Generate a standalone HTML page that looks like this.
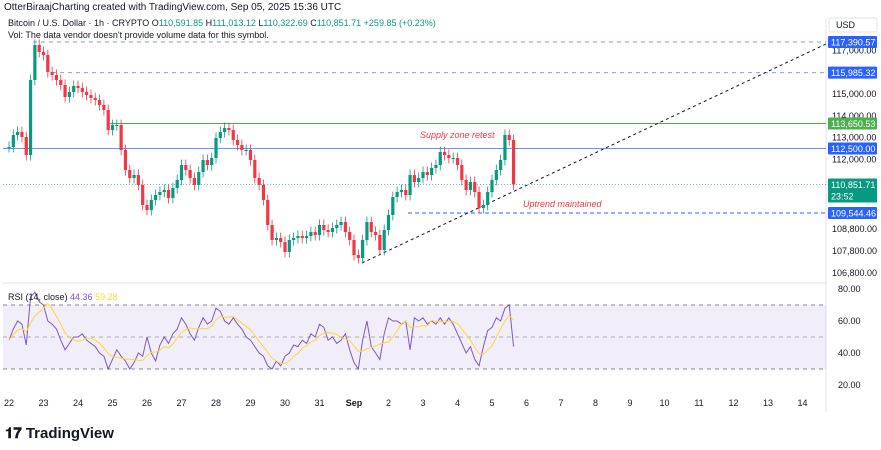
<!DOCTYPE html>
<html><head><meta charset="utf-8"><style>
body{margin:0;background:#fff;font-family:"Liberation Sans",sans-serif;}
svg text{font-family:"Liberation Sans",sans-serif;}
</style></head><body>
<svg id="c" width="881" height="445">
<rect x="0" y="0" width="881" height="445" fill="#fff"/>
<text x="4" y="10" font-size="10" fill="#131722">OtterBiraajCharting created with TradingView.com, Sep 05, 2025 15:36 UTC</text>
<text x="8" y="26" font-size="9" fill="#131722">Bitcoin / U.S. Dollar · 1h · CRYPTO  <tspan fill="#131722">O</tspan><tspan fill="#089981">110,591.85</tspan> <tspan fill="#131722">H</tspan><tspan fill="#089981">111,013.12</tspan> <tspan fill="#131722">L</tspan><tspan fill="#089981">110,322.69</tspan> <tspan fill="#131722">C</tspan><tspan fill="#089981">110,851.71 +259.85 (+0.23%)</tspan></text>
<text x="8" y="38" font-size="9" fill="#131722">Vol: The data vendor doesn't provide volume data for this symbol.</text>
<line x1="3" y1="283" x2="826" y2="283" stroke="#e0e3eb"/>
<line x1="826" y1="18" x2="826" y2="412" stroke="#e0e3eb"/>
<rect x="3" y="305" width="823" height="64" fill="#7e57c2" fill-opacity="0.1"/>
<g id="main"></g>
<g id="rsi"></g>
<g id="axes"></g>
<rect x="829" y="18" width="48" height="14" fill="#fff" stroke="#e0e3eb" rx="2"/>
<text x="836" y="28" font-size="9" fill="#131722">USD</text>
<text x="5" y="438" font-size="15" font-weight="bold" fill="#131722">𝟏𝟕 TradingView</text>
</svg>
<script>
const closes=[112572,113122,113260,113030,112205,115645,117250,116930,
116790,116010,115875,115645,115415,114865,115095,115370,
115280,115095,114960,114820,114730,114500,114270,113350,
113580,113580,112434,111516,111150,111287,110830,109910,
109680,110140,110370,110507,110600,110230,110690,111060,
111745,111516,111150,110830,111425,111975,111745,112066,
112984,113260,113443,113350,112893,112663,112434,112434,
111975,111150,110830,110140,108994,108305,108397,108214,
107755,108305,108397,108490,108397,108490,108672,108535,
108994,108764,108672,108856,108994,109130,108672,108305,
107617,107480,108305,109130,108672,108535,107847,108764,
109452,110278,110507,110600,110370,111287,110966,111150,
111425,111287,111608,111745,112342,112205,112066,112066,
111745,111060,110600,110966,110507,109773,109910,110507,
111060,111516,111975,113122,112893,110852];
const rsiValues=[48,55,60,58,45,75,78,72,70,60,58,55,48,42,46,50,50,52,48,46,44,40,38,30,
36,42,38,35,30,34,40,38,50,40,35,45,50,46,52,55,62,58,52,48,56,62,58,60,
68,66,60,58,62,58,55,50,48,44,40,38,32,30,35,32,38,40,45,44,48,46,52,50,
58,56,48,50,46,48,52,42,34,30,48,60,44,40,36,52,62,60,60,58,60,42,62,60,
62,58,60,58,62,58,62,58,52,46,40,44,36,32,44,54,56,62,60,68,70,44];
const priceTicks=[117000,115000,114000,113000,112000,108800,107800,106800];
const rsiTicks=[80,60,40,20];
const dateLabels=["22","23","24","25","26","27","28","29","30","31","Sep","2","3","4","5","6","7","8","9","10","11","12","13","14"];
const levels=[117390.57,115985.32,113650.53,112500.00,110851.71,109544.46];
const NS="http://www.w3.org/2000/svg";
const py=p=>213-(p-109544)*0.0218;
const ry=v=>337-(v-50)*1.6;
const dx=d=>9+d*34.5;
const ix=i=>9+i*4.3125;
function mk(t,a,par){const e=document.createElementNS(NS,t);for(const k in a)e.setAttribute(k,a[k]);par.appendChild(e);return e;}
const main=document.getElementById('main'),rsi=document.getElementById('rsi'),axes=document.getElementById('axes');
const lvStyle=[[33,'#2962ff','4,4',0.6],[52,'#2962ff','4,4',0.6],[110,'#4caf50','',1],[3,'#2962ff','',0.7],[3,'#089981','1,2',0.6],[408,'#2962ff','4,3',1]];
levels.forEach((v,k)=>{const s=lvStyle[k];
const l=mk('line',{x1:s[0],x2:826,y1:py(v),y2:py(v),stroke:s[1],'stroke-dasharray':s[2],'stroke-opacity':s[3]},main);

});
const tl=mk('line',{x1:362,y1:263,x2:826,y2:44,stroke:'#131722','stroke-dasharray':'3,3'},main);


closes.forEach((c,i)=>{const o=i?closes[i-1]:c;const up=c>=o;const col=up?'#089981':'#f23645';const x=ix(i);
const hi=Math.max(o,c)+250,lo=Math.min(o,c)-250;
const w=mk('line',{x1:x,x2:x,y1:py(hi),y2:py(lo),stroke:col,'stroke-width':0.8},main);


const b=mk('rect',{x:x-1.6,width:3.2,y:Math.min(py(o),py(c)),height:Math.max(1,Math.abs(py(o)-py(c))),fill:col},main);

});
const a1=mk('text',{x:420,y:138,'font-size':9,fill:'#f23645','font-style':'italic'},main);a1.textContent='Supply zone retest';


const a2=mk('text',{x:523,y:207,'font-size':9,fill:'#f23645','font-style':'italic'},main);a2.textContent='Uptrend maintained';


priceTicks.forEach(p=>{const t=mk('text',{x:832,y:py(p)+3,'font-size':9,fill:'#131722'},axes);t.textContent=p.toLocaleString('en-US',{minimumFractionDigits:2});

});
const badgeCol=['#2962ff','#2962ff','#4caf50','#2962ff','#089981','#2962ff'];
levels.forEach((v,k)=>{const y=py(v);const h=k==4?24:12;
const r=mk('rect',{x:828,y:y-6,width:49,height:h,fill:badgeCol[k],rx:1},axes);


const t=mk('text',{x:831,y:y+3.5,'font-size':9,fill:'#fff'},axes);t.textContent=v.toLocaleString('en-US',{minimumFractionDigits:2});


if(k==4){const t2=mk('text',{x:831,y:y+15,'font-size':9,fill:'#fff'},axes);t2.textContent='23:52';

}});
[70,50,30].forEach(v=>{const l=mk('line',{x1:3,x2:826,y1:ry(v),y2:ry(v),stroke:'#787b86','stroke-dasharray':'4,4','stroke-opacity':v==50?0.6:0.9},rsi);

});
const rp=mk('polyline',{points:rsiValues.map((v,i)=>ix(i)+','+ry(v)).join(' '),fill:'none',stroke:'#7e57c2','stroke-width':1},rsi);


const ma=rsiValues.map((v,i)=>{const s=rsiValues.slice(Math.max(0,i-4),i+1);return s.reduce((a,b)=>a+b,0)/s.length;});
const mp=mk('polyline',{points:ma.map((v,i)=>ix(i)+','+ry(v)).join(' '),fill:'none',stroke:'#fdd835','stroke-width':1},rsi);


const rl=mk('text',{x:8,y:300,'font-size':9,fill:'#131722'},rsi);rl.innerHTML='RSI (14, close) <tspan fill="#7e57c2">44.36</tspan> <tspan fill="#fdd835">59.28</tspan>';


rsiTicks.forEach(v=>{const t=mk('text',{x:838,y:ry(v)+3,'font-size':9,fill:'#131722'},axes);t.textContent=v.toFixed(2);

});
dateLabels.forEach((d,k)=>{const t=mk('text',{x:dx(k),y:406,'font-size':9,fill:'#131722','text-anchor':'middle','font-weight':d=='Sep'?'bold':'normal'},axes);t.textContent=d;

});
</script>
</body></html>
